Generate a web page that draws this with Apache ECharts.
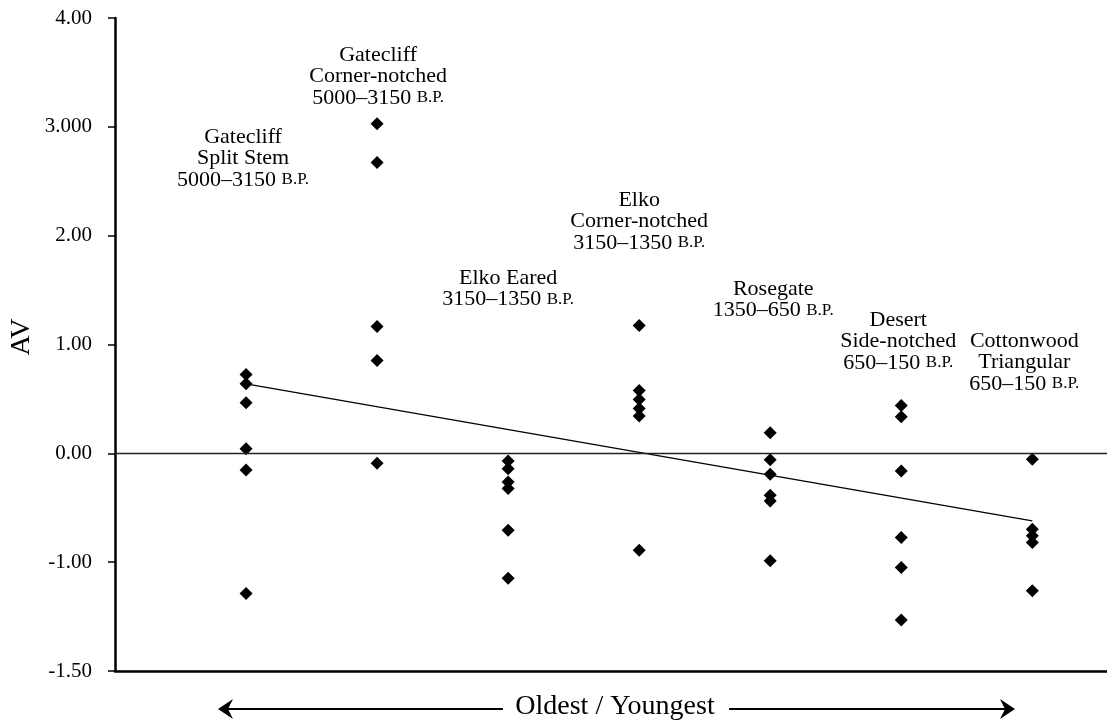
<!DOCTYPE html>
<html>
<head>
<meta charset="utf-8">
<title>AV by projectile point type</title>
<script src="https://cdn.jsdelivr.net/npm/echarts@6/dist/echarts.min.js"></script>
<style>
  html, body { margin: 0; padding: 0; background: #fff; }
  #chart { width: 1107px; height: 726px; }
</style>
</head>
<body>
<div id="chart"></div>
<script>
// Point types, oldest to youngest (positions 1..7 on the horizontal axis)
const typeNames = [
  'Gatecliff Split Stem',
  'Gatecliff Corner-notched',
  'Elko Eared',
  'Elko Corner-notched',
  'Rosegate',
  'Desert Side-notched',
  'Cottonwood Triangular'
];

// Multi-line captions drawn above each column ({sc|...} = small caps)
const typeCaptions = [
  'Gatecliff\nSplit Stem\n5000–3150 {sc|B.P.}',
  'Gatecliff\nCorner-notched\n5000–3150 {sc|B.P.}',
  'Elko Eared\n3150–1350 {sc|B.P.}',
  'Elko\nCorner-notched\n3150–1350 {sc|B.P.}',
  'Rosegate\n1350–650 {sc|B.P.}',
  'Desert\nSide-notched\n650–150 {sc|B.P.}',
  'Cottonwood\nTriangular\n650–150 {sc|B.P.}'
];

// AV values per type
const gatecliffSplitStem      = [0.725, 0.639, 0.465, 0.043, -0.153, -1.287];
const gatecliffCornerNotched  = [3.028, 2.672, 1.165, 0.853, -0.092];
const elkoEared               = [-0.071, -0.142, -0.263, -0.324, -0.706, -1.147];
const elkoCornerNotched       = [1.174, 0.578, 0.495, 0.413, 0.342, -0.890];
const rosegate                = [0.190, -0.058, -0.193, -0.385, -0.438, -0.988];
const desertSideNotched       = [0.440, 0.337, -0.162, -0.773, -1.049, -1.532];
const cottonwoodTriangular    = [-0.055, -0.697, -0.758, -0.820, -1.263];

const valuesByType = [
  gatecliffSplitStem, gatecliffCornerNotched, elkoEared, elkoCornerNotched,
  rosegate, desertSideNotched, cottonwoodTriangular
];

// Trend line: AV at the first and last type
const trendPositions = [1, 7];
const trendValues = [0.639, -0.621];

// Y tick values and the labels printed beside them
const yTickValues = [-2, -1, 0, 1, 2, 3, 4];
const yTickLabels = ['-1.50', '-1.00', '0.00', '1.00', '2.00', '3.000', '4.00'];

const axisTitle = 'AV';
const bottomCaption = 'Oldest / Youngest';

// ---------------------------------------------------------------
const FONT = '"Liberation Serif", "DejaVu Serif", serif';

const points = [];
valuesByType.forEach((vals, i) => {
  vals.forEach(v => points.push([i + 1, v]));
});

const chart = echarts.init(document.getElementById('chart'), null, { renderer: 'canvas' });

chart.setOption({
  animation: false,
  backgroundColor: '#ffffff',
  grid: { left: 115, right: 0, top: 18, bottom: 55, containLabel: false },
  xAxis: {
    type: 'value',
    min: 0,
    max: 7.57,
    axisLine: { show: true, onZero: false, lineStyle: { color: '#000', width: 2.5 } },
    axisTick: { show: false },
    axisLabel: { show: false },
    splitLine: { show: false }
  },
  yAxis: {
    type: 'value',
    min: -2,
    max: 4,
    interval: 1,
    axisLine: { show: true, onZero: false, lineStyle: { color: '#000', width: 2.5 } },
    axisTick: { show: true, inside: false, length: 7, lineStyle: { color: '#000', width: 1.5 } },
    axisLabel: {
      margin: 23,
      color: '#000',
      fontFamily: FONT,
      fontSize: 21,
      formatter: v => {
        const k = yTickValues.indexOf(v);
        return k >= 0 ? yTickLabels[k] : '';
      }
    },
    splitLine: { show: false }
  },
  series: [
    {
      name: 'zero',
      type: 'line',
      data: [],
      silent: true,
      markLine: {
        silent: true,
        symbol: ['none', 'none'],
        label: { show: false },
        lineStyle: { color: '#222', width: 1.3, type: 'solid', opacity: 1 },
        data: [{ yAxis: 0 }]
      }
    },
    {
      name: 'trend',
      type: 'line',
      data: trendPositions.map((x, i) => [x, trendValues[i]]),
      showSymbol: false,
      symbol: 'none',
      lineStyle: { color: '#000', width: 1.2 },
      z: 3
    },
    {
      name: 'AV',
      type: 'scatter',
      data: points,
      symbol: 'diamond',
      symbolSize: [13, 13],
      itemStyle: { color: '#000', opacity: 1 },
      z: 4
    }
  ]
});

// Captions above each column, anchored to the column's x position
const captionTops = [126, 44, 267, 189, 278, 309, 330];
const captionDx = [-3, 1, 0, 0, 3, -3, -8];
const graphics = [];
typeCaptions.forEach((txt, i) => {
  const px = chart.convertToPixel({ gridIndex: 0 }, [i + 1, 0])[0];
  graphics.push({
    type: 'text',
    x: px + captionDx[i],
    y: captionTops[i],
    style: {
      text: txt,
      fill: '#000',
      fontFamily: FONT,
      fontSize: 22,
      align: 'center',
      verticalAlign: 'top',
      lineHeight: 21.5,
      rich: {
        sc: { fontFamily: FONT, fontSize: 17, lineHeight: 21.5, fill: '#000' }
      }
    }
  });
});

// Vertical axis title
graphics.push({
  type: 'text',
  x: 22,
  y: 337,
  rotation: Math.PI / 2,
  style: {
    text: axisTitle,
    fill: '#000',
    fontFamily: FONT,
    fontSize: 28,
    align: 'center',
    verticalAlign: 'middle'
  }
});

// Bottom caption with double-headed arrow
const arrowY = 709;
graphics.push({
  type: 'text',
  x: 615,
  y: 707,
  style: {
    text: bottomCaption,
    fill: '#000',
    fontFamily: FONT,
    fontSize: 28,
    align: 'center',
    verticalAlign: 'middle'
  }
});
graphics.push({
  type: 'line',
  shape: { x1: 224, y1: arrowY, x2: 503, y2: arrowY },
  style: { stroke: '#000', lineWidth: 2.2 }
});
graphics.push({
  type: 'line',
  shape: { x1: 729, y1: arrowY, x2: 1009, y2: arrowY },
  style: { stroke: '#000', lineWidth: 2.2 }
});
graphics.push({
  type: 'polygon',
  shape: { points: [[218, arrowY], [233, arrowY - 10], [228, arrowY], [233, arrowY + 10]] },
  style: { fill: '#000' }
});
graphics.push({
  type: 'polygon',
  shape: { points: [[1015, arrowY], [1000, arrowY - 10], [1005, arrowY], [1000, arrowY + 10]] },
  style: { fill: '#000' }
});

chart.setOption({ graphic: graphics });
</script>
</body>
</html>
